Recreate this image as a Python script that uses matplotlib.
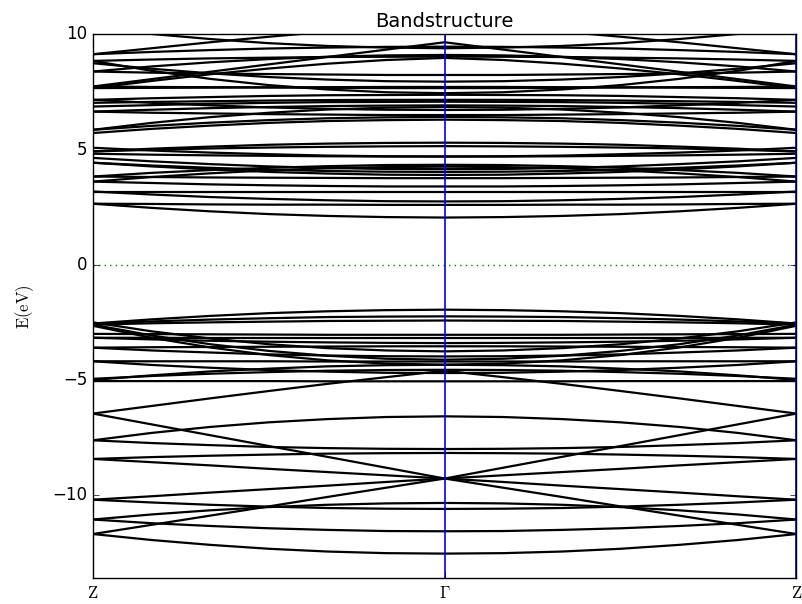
import matplotlib
matplotlib.use('Agg')
import matplotlib.pyplot as plt

plt.style.use('classic')
plt.rcParams['mathtext.fontset'] = 'cm'

# k positions along Z -> Gamma (half path), path is mirrored for Gamma -> Z
kpts = [0.0, 1/6, 2/6, 3/6, 4/6, 5/6, 1.0]
tick_pos = [0.0, 1.0, 2.0]
tick_labels = [r'$\mathrm{Z}$', r'$\Gamma$', r'$\mathrm{Z}$']

# energies (eV) at kpts, Z first, Gamma last
valence_low = [
    [-6.46, -6.93, -7.40, -7.87, -8.34, -8.81, -9.28],
    [-6.46, -6.13, -5.80, -5.48, -5.17, -4.88, -4.60],
    [-7.62, -7.30, -7.04, -6.84, -6.70, -6.61, -6.58],
    [-7.62, -7.74, -7.83, -7.91, -7.96, -7.99, -8.00],
    [-8.43, -8.57, -8.71, -8.86, -9.00, -9.14, -9.28],
    [-8.43, -8.35, -8.29, -8.24, -8.20, -8.18, -8.17],
    [-10.20, -10.05, -9.89, -9.74, -9.59, -9.43, -9.28],
    [-10.20, -10.32, -10.42, -10.50, -10.56, -10.59, -10.60],
    [-11.06, -10.84, -10.66, -10.52, -10.42, -10.36, -10.34],
    [-11.06, -11.22, -11.34, -11.44, -11.51, -11.56, -11.57],
    [-11.69, -11.29, -10.89, -10.49, -10.08, -9.68, -9.28],
    [-11.69, -11.95, -12.16, -12.33, -12.45, -12.52, -12.54],
]

valence_high = [
    [-2.55, -2.37, -2.22, -2.10, -2.02, -1.97, -1.95],
    [-2.55, -2.46, -2.38, -2.32, -2.27, -2.25, -2.24],
    [-2.60, -2.54, -2.50, -2.47, -2.44, -2.43, -2.42],
    [-2.50, -2.89, -3.20, -3.45, -3.62, -3.72, -3.76],
    [-2.60, -3.07, -3.45, -3.74, -3.95, -4.08, -4.12],
    [-2.65, -3.17, -3.59, -3.92, -4.15, -4.29, -4.34],
    [-3.00, -3.01, -3.02, -3.03, -3.04, -3.04, -3.04],
    [-3.17, -3.17, -3.18, -3.18, -3.18, -3.18, -3.18],
    [-3.17, -3.24, -3.30, -3.34, -3.37, -3.39, -3.40],
    [-3.60, -3.58, -3.57, -3.56, -3.55, -3.54, -3.54],
    [-3.60, -3.72, -3.81, -3.89, -3.94, -3.97, -3.98],
    [-4.19, -4.19, -4.19, -4.19, -4.20, -4.20, -4.20],
    [-4.19, -4.35, -4.47, -4.57, -4.64, -4.69, -4.70],
    [-4.95, -4.83, -4.73, -4.66, -4.60, -4.57, -4.56],
    [-5.05, -5.05, -5.05, -5.05, -5.06, -5.06, -5.06],
    [-5.00, -4.80, -4.63, -4.51, -4.41, -4.36, -4.34],
]

conduction = [
    [2.65, 2.47, 2.32, 2.20, 2.12, 2.07, 2.05],
    [2.65, 2.64, 2.62, 2.61, 2.61, 2.60, 2.60],
    [3.18, 3.05, 2.94, 2.86, 2.80, 2.76, 2.75],
    [3.18, 3.18, 3.18, 3.18, 3.18, 3.18, 3.18],
    [3.61, 3.55, 3.49, 3.45, 3.42, 3.40, 3.40],
    [3.61, 3.81, 3.97, 4.10, 4.19, 4.24, 4.26],
    [3.83, 3.81, 3.79, 3.78, 3.77, 3.76, 3.76],
    [3.83, 3.99, 4.11, 4.21, 4.28, 4.33, 4.34],
    [4.43, 4.27, 4.14, 4.03, 3.96, 3.91, 3.90],
    [4.43, 4.31, 4.21, 4.13, 4.07, 4.04, 4.03],
    [4.64, 4.49, 4.37, 4.27, 4.20, 4.16, 4.15],
    [4.82, 4.78, 4.75, 4.73, 4.71, 4.70, 4.70],
    [4.92, 5.04, 5.13, 5.21, 5.26, 5.29, 5.30],
    [4.92, 4.99, 5.05, 5.09, 5.12, 5.14, 5.15],
    [5.08, 4.96, 4.87, 4.80, 4.74, 4.71, 4.70],
    [5.72, 5.90, 6.04, 6.16, 6.24, 6.28, 6.30],
    [5.86, 6.03, 6.17, 6.28, 6.36, 6.40, 6.42],
    [5.86, 6.16, 6.41, 6.60, 6.74, 6.82, 6.85],
    [6.65, 6.60, 6.57, 6.54, 6.52, 6.50, 6.50],
    [6.65, 6.73, 6.80, 6.85, 6.89, 6.91, 6.92],
    [6.87, 6.93, 6.99, 7.03, 7.06, 7.07, 7.08],
    [7.03, 7.07, 7.10, 7.13, 7.15, 7.16, 7.16],
    [7.16, 7.23, 7.28, 7.33, 7.36, 7.37, 7.38],
    [7.16, 7.03, 6.92, 6.83, 6.77, 6.73, 6.72],
    [7.67, 7.68, 7.69, 7.70, 7.71, 7.72, 7.72],
    [7.67, 7.98, 8.27, 8.52, 8.73, 8.89, 8.98],
    [7.74, 8.06, 8.38, 8.70, 9.02, 9.34, 9.66],
    [7.74, 7.72, 7.71, 7.70, 7.68, 7.67, 7.67],
    [8.39, 8.61, 8.79, 8.93, 9.03, 9.09, 9.11],
    [8.39, 8.34, 8.30, 8.28, 8.26, 8.24, 8.24],
    [8.75, 8.51, 8.31, 8.15, 8.04, 7.97, 7.95],
    [8.85, 8.91, 8.96, 8.99, 9.02, 9.03, 9.04],
    [8.85, 8.42, 8.07, 7.80, 7.61, 7.49, 7.45],
    [9.14, 9.24, 9.32, 9.39, 9.43, 9.46, 9.47],
    [9.14, 9.40, 9.66, 9.90, 10.12, 10.30, 10.40],
    [10.30, 10.02, 9.80, 9.62, 9.50, 9.43, 9.40],
]

x_full = kpts + [2.0 - k for k in kpts[-2::-1]]

fig = plt.figure(figsize=(8.02, 6.04), dpi=100)
ax = fig.add_axes([0.116, 0.043, 0.877, 0.900])

for group in (valence_low, valence_high, conduction):
    for band in group:
        e_full = band + band[-2::-1]
        ax.plot(x_full, e_full, color='k', linewidth=1.6)

ax.axhline(0.0, color='g', linestyle=':', linewidth=1.0)
for xp in tick_pos:
    ax.axvline(xp, color='b', linewidth=1.2)

ax.set_xlim(0, 2)
ax.set_ylim(-13.6, 10)
ax.set_xticks(tick_pos)
ax.set_xticklabels(tick_labels, fontsize=12)
ax.set_yticks([-10, -5, 0, 5, 10])
ax.tick_params(axis='y', labelsize=12)
ax.set_ylabel(r'$\mathrm{E(eV)}$', fontsize=12, labelpad=12)
ax.set_title('Bandstructure', fontsize=14)

fig.savefig('out.png', dpi=100)
